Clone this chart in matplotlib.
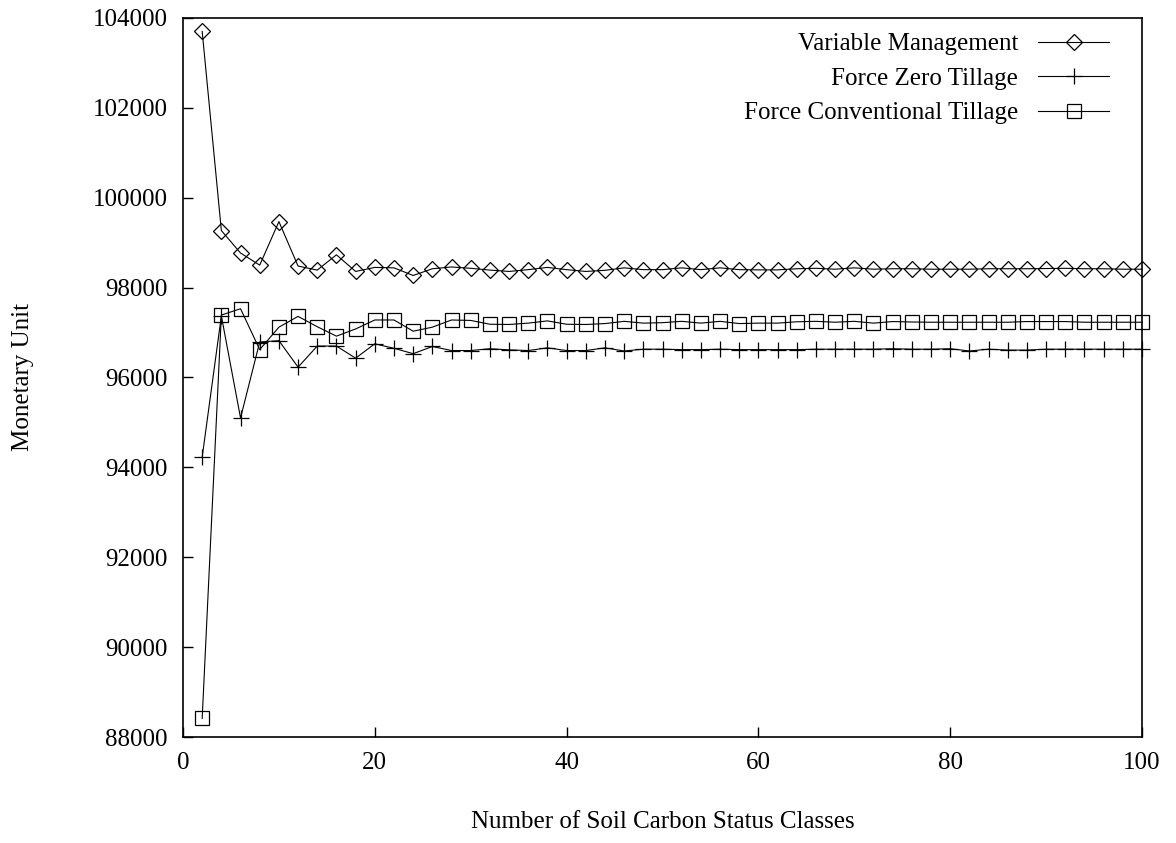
import matplotlib
matplotlib.use("Agg")
import matplotlib.pyplot as plt
import numpy as np

plt.rcParams['font.family'] = ['Liberation Serif', 'DejaVu Serif']

classes = list(range(2, 101, 2))

variable_mgmt = [103700, 99270, 98770, 98500, 99470, 98480, 98390, 98730, 98360, 98450,
                 98440, 98270, 98420, 98460, 98430, 98390, 98360, 98400,
                 98450, 98400, 98360, 98385, 98440, 98400, 98400, 98440, 98400, 98440,
                 98400, 98395, 98395, 98420, 98430, 98410,
                 98440, 98410, 98420, 98420, 98410, 98410, 98410, 98420, 98420, 98420,
                 98425, 98430, 98420, 98420, 98410, 98410]

zero_tillage = [94230, 97370, 95100, 96790, 96820, 96230, 96700, 96700, 96430, 96750,
                96650, 96530, 96690, 96600, 96600, 96640, 96615, 96600,
                96660, 96600, 96600, 96660, 96590, 96630, 96630, 96620, 96620, 96630,
                96620, 96620, 96620, 96620, 96630, 96630,
                96630, 96630, 96640, 96630, 96630, 96640, 96590, 96630, 96610, 96610,
                96630, 96630, 96630, 96630, 96630, 96630]

conv_tillage = [88415, 97390, 97530, 96620, 97120, 97360, 97130, 96920, 97080, 97280,
                97280, 97030, 97120, 97280, 97270, 97185, 97180, 97210,
                97260, 97185, 97180, 97200, 97250, 97210, 97220, 97250, 97210, 97250,
                97200, 97210, 97210, 97240, 97250, 97230,
                97250, 97210, 97245, 97235, 97230, 97230, 97230, 97230, 97230, 97245,
                97245, 97245, 97230, 97230, 97230, 97230]

series_labels = ["Variable Management", "Force Zero Tillage", "Force Conventional Tillage"]
x_ticks = [0, 20, 40, 60, 80, 100]
y_ticks = [88000, 90000, 92000, 94000, 96000, 98000, 100000, 102000, 104000]

FS = 18

fig = plt.figure(figsize=(11.76, 8.43), dpi=100)
ax = fig.add_axes([183/1176, 1 - 737/843, (1142-183)/1176, (737-18)/843])

lw = 0.8
ax.plot(classes, variable_mgmt, color='black', lw=lw, marker='D', markersize=8,
        markerfacecolor='none', markeredgecolor='black', markeredgewidth=0.9,
        label=series_labels[0], clip_on=False)
ax.plot(classes, zero_tillage, color='black', lw=lw, marker='+', markersize=12,
        markeredgewidth=0.9, label=series_labels[1], clip_on=False)
ax.plot(classes, conv_tillage, color='black', lw=lw, marker='s', markersize=10.5,
        markerfacecolor='none', markeredgecolor='black', markeredgewidth=0.9,
        label=series_labels[2], clip_on=False)

ax.set_xlim(0, 100)
ax.set_ylim(88000, 104000)
ax.set_xticks(x_ticks)
ax.set_yticks(y_ticks)
ax.set_xticklabels([str(t) for t in x_ticks])
ax.set_yticklabels([str(t) for t in y_ticks])
ax.tick_params(direction='in', length=7, width=1, labelsize=FS, pad=11,
               top=False, right=False)
for s in ax.spines.values():
    s.set_linewidth(1.2)

ax.set_xlabel("Number of Soil Carbon Status Classes", fontsize=FS)
ax.set_ylabel("Monetary Unit", fontsize=FS)
ax.xaxis.set_label_coords(0.5, (737 - 822) / 719, transform=ax.transAxes)
ax.yaxis.set_label_coords(-160 / 959, 0.5, transform=ax.transAxes)
ax.xaxis.label.set_va('center')
ax.yaxis.label.set_va('center')

leg = ax.legend(loc='upper right', frameon=False, markerfirst=False, fontsize=FS,
                handlelength=2.84, handletextpad=0.8, labelspacing=0.48,
                borderaxespad=0, borderpad=0,
                bbox_to_anchor=((1109 - 183) / 959, (737 - 33) / 719))
for t in leg.get_texts():
    t.set_ha('right')
leg._legend_box.align = "right"

fig.savefig("out.png", dpi=100)
